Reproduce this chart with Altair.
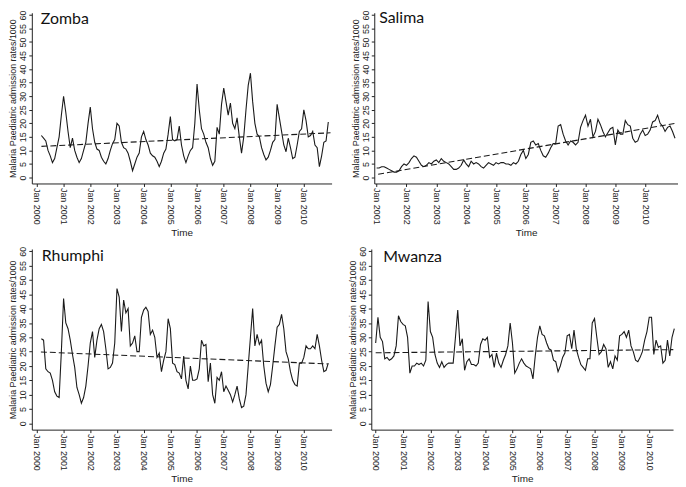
import altair as alt
import pandas as pd

# ---------------- data ----------------
zomba_start = (2000, 2)  # (year, month index offset from Jan of that year)
zomba_values = [15.5, 14.5, 13.5, 10, 8, 5.5, 7, 11, 15, 23,
                30, 24, 17, 11, 14.5, 10, 7.5, 5.5, 7, 10, 13, 20,
                26, 18, 13, 10.5, 10, 7.5, 6, 5, 7, 10, 12.5, 14,
                20, 19, 13, 11, 10.5, 9, 6, 2.5, 5, 7.5, 9, 15,
                17, 14, 12, 9, 8, 7.5, 6, 4, 6, 9, 10.5, 16,
                22.5, 14, 13.5, 14, 19, 12, 8, 5.5, 8, 10, 11, 20,
                34.5, 25, 18, 16, 13, 11, 7, 4.5, 6, 18.5, 16, 27,
                33, 28, 23, 27.5, 20, 18, 22, 15, 9, 15, 25, 34,
                38.5, 28, 20, 16, 15, 11, 8.5, 6.5, 7.5, 10, 13, 14,
                27, 22, 17, 12, 9.5, 14.5, 11, 7, 7.5, 12, 17, 18,
                25, 21, 15, 15.5, 17, 12, 11, 4, 8, 13, 13.5, 20.5]
zomba_trend_t = [2000.17, 2011.0]
zomba_trend_v = [11.5, 16.5]

salima_start = (2001, 0)
salima_values = [3.5, 3.5, 4, 4, 3.5, 3, 2.5, 2, 2, 2.5, 4, 5,
                 4.5, 5.5, 7, 8, 7.5, 6, 4.5, 4, 4.5, 5.5, 5, 6,
                 6.5, 5.5, 7, 6, 5.5, 5, 4, 3, 3, 3.5, 4.5, 6.5,
                 5, 4, 6, 5, 5.5, 5, 4, 3.5, 4.5, 5.5, 5, 4.5,
                 5.5, 5, 5.5, 5.5, 5, 5, 4.5, 5.5, 5, 6, 8.5, 10,
                 7, 8.5, 13, 13.5, 12, 12.5, 10, 8, 7.5, 9, 11, 12.5,
                 12.5, 19, 19.5, 16, 13.5, 12, 13.5, 13, 12, 13, 18.5, 21,
                 23, 19, 21.5, 15, 17, 21.5, 19.5, 17, 15, 16.5, 18, 18.5,
                 12, 17.5, 16, 16, 21, 19.5, 19, 14.5, 13, 13.5, 16, 17.5,
                 15.5, 16, 17.5, 20.5, 21, 23, 20, 19, 17, 18.5, 19, 17,
                 14.5]
salima_trend_t = [2001.05, 2010.98]
salima_trend_v = [1.2, 19.9]

rhumphi_start = (2000, 2)
rhumphi_values = [29.5, 29, 19, 18, 17.5, 15, 11, 9.5, 9, 25,
                  43.5, 35, 33, 29, 24, 19.5, 12.5, 10, 7, 9, 13, 20,
                  28, 32, 23, 29, 33, 34.5, 32, 26, 19, 19.5, 21, 28,
                  47, 44, 32, 43, 38.5, 40, 27, 28, 30.5, 25, 25, 37,
                  39.5, 40.5, 39, 31, 32.5, 30, 23, 24.5, 18, 22, 25, 36.5,
                  33, 21, 20.5, 18, 17.5, 15.5, 23.5, 15, 12, 20, 15, 15,
                  15.5, 19, 29, 27, 27.5, 14.5, 21, 10, 7, 16, 15, 18,
                  11, 13, 11.5, 10, 7.5, 10, 13, 8.5, 5.5, 6, 10, 20,
                  30, 40, 27, 31, 27.5, 29, 20, 14, 11, 13.5, 20, 27,
                  33.5, 34.5, 38, 33, 25, 22.5, 18, 15, 13.5, 13, 21, 21,
                  23, 27, 26, 26, 27, 26, 31, 27, 22, 18, 18.5, 21]
rhumphi_trend_t = [2000.15, 2010.9]
rhumphi_trend_v = [24.9, 20.7]

mwanza_start = (2000, 0)
mwanza_values = [28, 37, 30, 28.5, 22.5, 23, 22, 22.5, 23.5, 27, 37.5, 35.5,
                 34.5, 34, 30, 17.5, 20, 20, 21, 20.5, 21, 20, 22, 42.5,
                 32, 30, 24, 21, 19.5, 21.5, 19.5, 20.5, 21, 21, 21, 30,
                 39.5, 27, 29.5, 18.5, 21.5, 22.5, 20.5, 20.5, 20, 21, 27.5, 29.5,
                 29, 30, 23, 24, 19.5, 24.5, 21, 19.5, 22, 24, 27, 35,
                 28, 17.5, 19, 21, 22.5, 21, 20, 19.5, 19, 15.5, 23.5, 30,
                 34, 31, 30.5, 28, 26, 25.5, 22, 21.5, 18, 20, 23, 24.5,
                 30.5, 31, 26, 32.5, 26, 23, 20.5, 19.5, 18.5, 22.5, 22.5, 35,
                 36.5, 30, 24, 25, 27.5, 26, 19.5, 21.5, 19, 23.5, 22, 30.5,
                 31, 32, 30, 32.5, 27, 25, 22, 21.5, 23, 25, 29, 32,
                 37, 37, 24, 29, 26.5, 27, 21, 22, 29, 23.5, 30, 33]
mwanza_trend_t = [2000.0, 2010.88]
mwanza_trend_v = [24.6, 25.7]

y_ticks = list(range(0, 61, 5))
Y_TITLE = "Malaria Paediatric admission rates/1000"


def series_df(start, values):
    y0, m0 = start
    return pd.DataFrame({"t": [y0 + (m0 + i) / 12.0 for i in range(len(values))],
                         "v": values})


def panel(name, start, values, trend_t, trend_v, xdomain, tick_years,
          w, h, lab_x, lab_y):
    df = series_df(start, values)
    tdf = pd.DataFrame({"t": trend_t, "v": trend_v})
    xscale = alt.Scale(domain=xdomain, nice=False, zero=False)
    yscale = alt.Scale(domain=[-2.2, 60.8], nice=False, zero=False)
    xaxis = alt.Axis(values=tick_years, labelExpr="'Jan ' + datum.value",
                     labelAngle=90, labelAlign="left", labelBaseline="middle",
                     labelOverlap=False, labelBound=False, labelFlush=False,
                     title="Time", grid=False, tickSize=3, labelPadding=1,
                     titlePadding=3, labelFontSize=9, titleFontSize=10,
                     titleFontWeight="normal")
    yaxis = alt.Axis(values=y_ticks, labelAngle=270, labelAlign="center",
                     labelBaseline="bottom", labelOverlap=False,
                     labelBound=False, labelFlush=False,
                     title=Y_TITLE, grid=False,
                     tickSize=3, labelPadding=1, titlePadding=1,
                     labelFontSize=9, titleFontSize=9,
                     titleFontWeight="normal")
    line = alt.Chart(df).mark_line(color="#1a1a1a", strokeWidth=1.1).encode(
        x=alt.X("t:Q", scale=xscale, axis=xaxis),
        y=alt.Y("v:Q", scale=yscale, axis=yaxis),
    )
    trend = alt.Chart(tdf).mark_line(color="#1a1a1a", strokeWidth=1.1,
                                     strokeDash=[6, 3]).encode(
        x=alt.X("t:Q", scale=xscale, axis=xaxis),
        y=alt.Y("v:Q", scale=yscale, axis=yaxis),
    )
    lab = alt.Chart(pd.DataFrame({"name": [name]})).mark_text(
        font="Lato", fontSize=16, align="left", baseline="alphabetic",
        color="#111111").encode(
        text="name:N", x=alt.value(lab_x), y=alt.value(lab_y))
    return alt.layer(line, trend, lab).properties(width=w, height=h)


top = alt.hconcat(
    panel("Zomba", zomba_start, zomba_values, zomba_trend_t, zomba_trend_v,
          [1999.81, 2011.04], list(range(2000, 2011)), 302, 172, 9, 11),
    panel("Salima", salima_start, salima_values, salima_trend_t, salima_trend_v,
          [2000.92, 2011.1], list(range(2001, 2011)), 306, 172, 5, 10),
    spacing=17,
)
bottom = alt.hconcat(
    panel("Rhumphi", rhumphi_start, rhumphi_values, rhumphi_trend_t,
          rhumphi_trend_v, [1999.81, 2011.04], list(range(2000, 2011)),
          302, 182, 10, 12),
    panel("Mwanza", mwanza_start, mwanza_values, mwanza_trend_t,
          mwanza_trend_v, [1999.84, 2010.87], list(range(2000, 2011)),
          304, 182, 12, 13),
    spacing=17,
)

chart = alt.vconcat(top, bottom, spacing=8).properties(
    padding=0, background="white"
).configure_view(stroke=None).configure_axis(
    labelFont="Liberation Sans", titleFont="Liberation Sans",
    labelColor="#222222", titleColor="#222222", titleFontWeight="normal",
    domainColor="#222222", tickColor="#222222", domainWidth=1,
).configure_concat(spacing=8)

chart.save("out.html", embed_options={"renderer": "svg", "actions": False})
